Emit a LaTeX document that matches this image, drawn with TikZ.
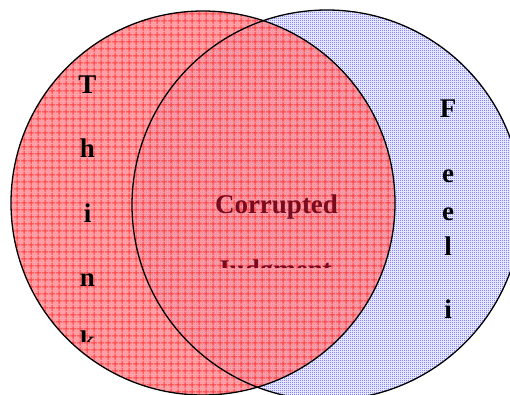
\documentclass[tikz,border=0pt]{standalone}
\usepackage{fontspec}
\setmainfont{Liberation Serif}
\usetikzlibrary{patterns.meta}
\definecolor{thinkRed}{HTML}{FF2E2E}
\definecolor{thinkBg}{HTML}{FF8E95}
\definecolor{feelBlue}{HTML}{8484FF}
\definecolor{feelBg}{HTML}{E6E6FF}
\definecolor{corruptCol}{HTML}{7A0A1E}
\tikzdeclarepattern{
  name=redgrid, type=uncolored,
  bounding box={(0pt,0pt) and (7pt,7pt)},
  tile size={(7pt,7pt)},
  code={\draw[line width=1.2pt] (0pt,3.5pt) -- (7pt,3.5pt) (3.5pt,0pt) -- (3.5pt,7pt);},
}
\tikzdeclarepattern{
  name=bluedots, type=uncolored,
  bounding box={(0pt,0pt) and (2.4pt,2.4pt)},
  tile size={(2.4pt,2.4pt)},
  code={\fill (0pt,0pt) rectangle (1.1pt,1.1pt);},
}
\tikzset{
  setline/.style={draw=black, line width=1.3pt},
  letter/.style={
    inner sep=0pt, anchor=base, font=\fontsize{27}{32}\selectfont\bfseries,
  },
  midword/.style={letter, text=corruptCol},
}

\begin{document}
\begin{tikzpicture}[x=1pt, y=-1pt]
\useasboundingbox (0,0) rectangle (510,394);
\clip (0,0) rectangle (510,394);

\coordinate (thinkC) at (203,203);
\coordinate (feelC)  at (327,205);

% sets
\fill[feelBg] (feelC) circle[radius=195];
\fill[pattern={bluedots}, pattern color=feelBlue] (feelC) circle[radius=195];
\fill[thinkBg, fill opacity=0.85] (thinkC) circle[radius=192];
\fill[pattern={redgrid}, pattern color=thinkRed, fill opacity=0.85]
  (thinkC) circle[radius=192];
\draw[setline] (feelC) circle[radius=195];
\draw[setline] (thinkC) circle[radius=192];

% Think
\foreach \ch/\yb [count=\i] in {T/93, h/157.5, i/222, n/286.5} {
  \node[letter] (think\i) at (87.5,\yb) {\ch};
}
\begin{scope}
  \clip (60,300) rectangle (120,341);
  \node[letter] (think5) at (87.5,349) {k};
\end{scope}

% Feeling
\foreach \ch/\yb [count=\i] in {F/117, e/182, e/220, l/255, i/318} {
  \node[letter] (feel\i) at (448,\yb) {\ch};
}

% overlap
\node[midword] (corrupted) at (276.5,213) {Corrupted};
\begin{scope}
  \clip (180,240) rectangle (370,267);
  \node[midword] (judgment) at (274,278) {Judgment};
\end{scope}

\end{tikzpicture}
\end{document}
